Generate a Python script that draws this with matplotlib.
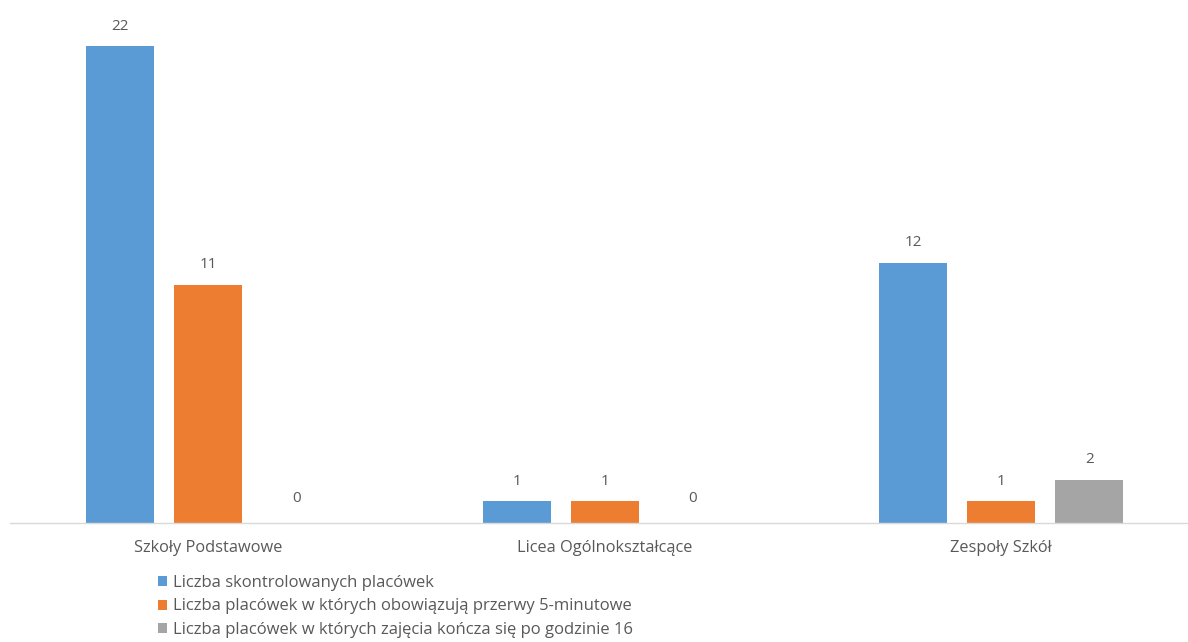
import matplotlib
matplotlib.use("Agg")
import matplotlib.pyplot as plt
from matplotlib.patches import Patch
import numpy as np

categories = ["Szkoły Podstawowe", "Licea Ogólnokształcące", "Zespoły Szkół"]
series_names = [
    "Liczba skontrolowanych placówek",
    "Liczba placówek w których obowiązują przerwy 5-minutowe",
    "Liczba placówek w których zajęcia kończa się po godzinie 16",
]
skontrolowane = [22, 1, 12]
przerwy = [11, 1, 1]
po_16 = [0, 0, 2]
colors = ["#5B9BD5", "#ED7D31", "#A5A5A5"]

plt.rcParams['font.family'] = ['Open Sans', 'DejaVu Sans']
W, H = 1188, 642
fig = plt.figure(figsize=(W / 100, H / 100), dpi=100)
ax_left, ax_bottom_px, ax_top_px = 10, 523, 0
ax = fig.add_axes([ax_left / W, 1 - ax_bottom_px / H, (W - ax_left) / W, (ax_bottom_px - ax_top_px) / H])

x = np.arange(len(categories))
bw = 0.1715
off = 0.222
text_c = "#595959"
for i, (vals, c) in enumerate(zip([skontrolowane, przerwy, po_16], colors)):
    xs = x + (i - 1) * off
    ax.bar(xs, vals, width=bw, color=c, zorder=2)
    for xi, v in zip(xs, vals):
        ax.annotate(str(v), (xi, v), xytext=(0, 9 if v > 0 else 12), textcoords="offset points",
                    ha="center", va="bottom", fontsize=11, color=text_c)

ax.set_xlim(-0.5, -0.5 + (W - ax_left) / 396.5)
ax.set_ylim(0, 523 / 21.68)
ax.set_yticks([])
ax.set_xticks(x)
ax.set_xticklabels(categories, fontsize=11.8, color=text_c)
ax.tick_params(axis="x", length=0, pad=12)
for s in ["top", "right", "left"]:
    ax.spines[s].set_visible(False)
ax.spines["bottom"].set_color("#D9D9D9")
ax.spines["bottom"].set_linewidth(1)

handles = [Patch(facecolor=c, edgecolor="none") for c in colors]
fig.legend(handles, series_names, loc="upper left", bbox_to_anchor=(158 / W, 1 - 575 / H),
           frameon=False, fontsize=12, labelcolor=text_c, handlelength=0.55, handleheight=0.55,
           handletextpad=0.35, labelspacing=0.45, borderaxespad=0, borderpad=0)

fig.savefig("out.png", dpi=100)
